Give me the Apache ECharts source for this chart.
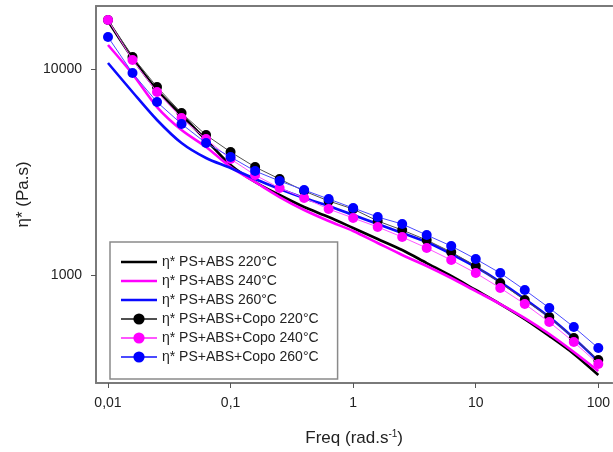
<!DOCTYPE html>
<html><head><meta charset="utf-8">
<script src="https://cdn.jsdelivr.net/npm/echarts@6/dist/echarts.min.js"></script>
<style>html,body{margin:0;padding:0;background:#fff}#c{width:613px;height:452px}</style>
</head><body><div id="c"></div>
<script>
// Frequencies (rad/s)
const freq = [0.01, 0.01585, 0.02512, 0.03981, 0.0631, 0.1, 0.1585, 0.2512, 0.3981, 0.631, 1, 1.585, 2.512, 3.981, 6.31, 10, 15.85, 25.12, 39.81, 63.1, 100];

// eta* values (Pa.s)
const psAbs220 = [17100, 11310, 7907, 5979, 4521, 3420, 2828, 2445, 2138, 1912, 1691, 1495, 1322, 1143, 989, 846, 723, 611, 506, 414, 327];
const psAbs240 = [13080, 9456, 6538, 5057, 4182, 3344, 2828, 2391, 2068, 1829, 1635, 1430, 1251, 1106, 967, 836, 723, 618, 517, 423, 342];
const psAbs260 = [10690, 7734, 5656, 4372, 3698, 3308, 2924, 2615, 2365, 2163, 1956, 1768, 1599, 1446, 1265, 1094, 925, 765, 625, 494, 382];
const copo220 = [17290, 11440, 8180, 6110, 4780, 3955, 3344, 2924, 2557, 2287, 2091, 1829, 1653, 1478, 1293, 1106, 914, 756, 625, 494, 387];
const copo240 = [17290, 11060, 7730, 5780, 4570, 3655, 3057, 2644, 2365, 2091, 1891, 1710, 1529, 1352, 1182, 1022, 865, 723, 591, 473, 370];
const copo260 = [14300, 9560, 6910, 5410, 4370, 3740, 3197, 2859, 2586, 2339, 2115, 1912, 1768, 1563, 1383, 1196, 1022, 846, 692, 559, 442];

const seriesNames = ['η* PS+ABS 220°C', 'η* PS+ABS 240°C', 'η* PS+ABS 260°C',
  'η* PS+ABS+Copo 220°C', 'η* PS+ABS+Copo 240°C', 'η* PS+ABS+Copo 260°C'];
const xTicks = [0.01, 0.1, 1, 10, 100];
const xTickLabels = ['0,01', '0,1', '1', '10', '100'];
const yTicks = [1000, 10000];
const yTickLabels = ['1000', '10000'];

const FONT = "'Liberation Sans', Arial, sans-serif";
const pair = (ys) => freq.map((f, i) => [f, ys[i]]);
const X_MIN = 0.007983, X_MAX = 130.1;

function thick(name, ys, color) {
  return { name, type: 'line', data: pair(ys), symbol: 'none', smooth: 0.3,
    lineStyle: { color, width: 2.6 }, itemStyle: { color }, z: 2 };
}
function marked(name, ys, color, lineColor, z) {
  return { name, type: 'line', data: pair(ys), symbol: 'circle', symbolSize: 10,
    lineStyle: { color: lineColor, width: 1 }, itemStyle: { color }, z };
}
const LINE_ICON = 'path://M0,0 L36,0 L36,2.6 L0,2.6 Z';
function labelFor(ticks, labels) {
  return (v) => { const i = ticks.findIndex(t => Math.abs(Math.log10(t) - Math.log10(v)) < 1e-6); return i >= 0 ? labels[i] : ''; };
}

const chart = echarts.init(document.getElementById('c'), null, { renderer: 'canvas' });
chart.setOption({
  animation: false,
  backgroundColor: '#fff',
  textStyle: { fontFamily: FONT },
  grid: { left: 96, top: 6, right: 0, bottom: 69, show: false },
  legend: {
    orient: 'vertical', left: 110, top: 242,
    padding: [13, 19, 15, 10], itemGap: 5, itemWidth: 36, itemHeight: 14,
    backgroundColor: '#fff', borderColor: '#8a8a8a', borderWidth: 1.5,
    textStyle: { fontSize: 14, color: '#222', fontFamily: FONT },
    data: [
      { name: seriesNames[0], icon: LINE_ICON },
      { name: seriesNames[1], icon: LINE_ICON },
      { name: seriesNames[2], icon: LINE_ICON },
      seriesNames[3], seriesNames[4], seriesNames[5]
    ]
  },
  xAxis: [{
    type: 'log', logBase: 10, min: X_MIN, max: X_MAX,
    name: 'Freq (rad.s{sup|-1})', nameLocation: 'middle', nameGap: 46,
    nameTextStyle: { fontSize: 17, color: '#222', fontFamily: FONT,
      rich: { sup: { fontSize: 10, verticalAlign: 'top', padding: [0, 0, 8, 0], color: '#222' } } },
    axisLine: { lineStyle: { color: '#7a7a7a', width: 2 } },
    axisTick: { customValues: xTicks, length: 5, lineStyle: { color: '#555', width: 1 } },
    axisLabel: { customValues: xTicks, margin: 13, fontSize: 14, color: '#222', formatter: labelFor(xTicks, xTickLabels) },
    splitLine: { show: false }, minorTick: { show: false }
  }, {
    type: 'log', logBase: 10, min: X_MIN, max: X_MAX, position: 'top',
    axisLine: { show: true, lineStyle: { color: '#7a7a7a', width: 2 } },
    axisTick: { show: false }, axisLabel: { show: false }, splitLine: { show: false }
  }],
  yAxis: {
    type: 'log', logBase: 10, min: 299.1, max: 20222,
    name: 'η* (Pa.s)', nameLocation: 'middle', nameGap: 64, nameRotate: 90,
    nameTextStyle: { fontSize: 17, color: '#222', fontFamily: FONT },
    axisLine: { lineStyle: { color: '#7a7a7a', width: 2 } },
    axisTick: { customValues: yTicks, length: 5, lineStyle: { color: '#555', width: 1 } },
    axisLabel: { customValues: yTicks, margin: 14, fontSize: 14, color: '#222', formatter: labelFor(yTicks, yTickLabels) },
    splitLine: { show: false }, minorTick: { show: false }
  },
  series: [
    thick(seriesNames[0], psAbs220, '#000000'),
    thick(seriesNames[1], psAbs240, '#ff00ff'),
    thick(seriesNames[2], psAbs260, '#0a0aff'),
    marked(seriesNames[3], copo220, '#000000', '#505050', 3),
    marked(seriesNames[4], copo240, '#ff00ff', '#ff55ff', 4),
    marked(seriesNames[5], copo260, '#0000ff', '#4a4aff', 5)
  ]
});
</script></body></html>
